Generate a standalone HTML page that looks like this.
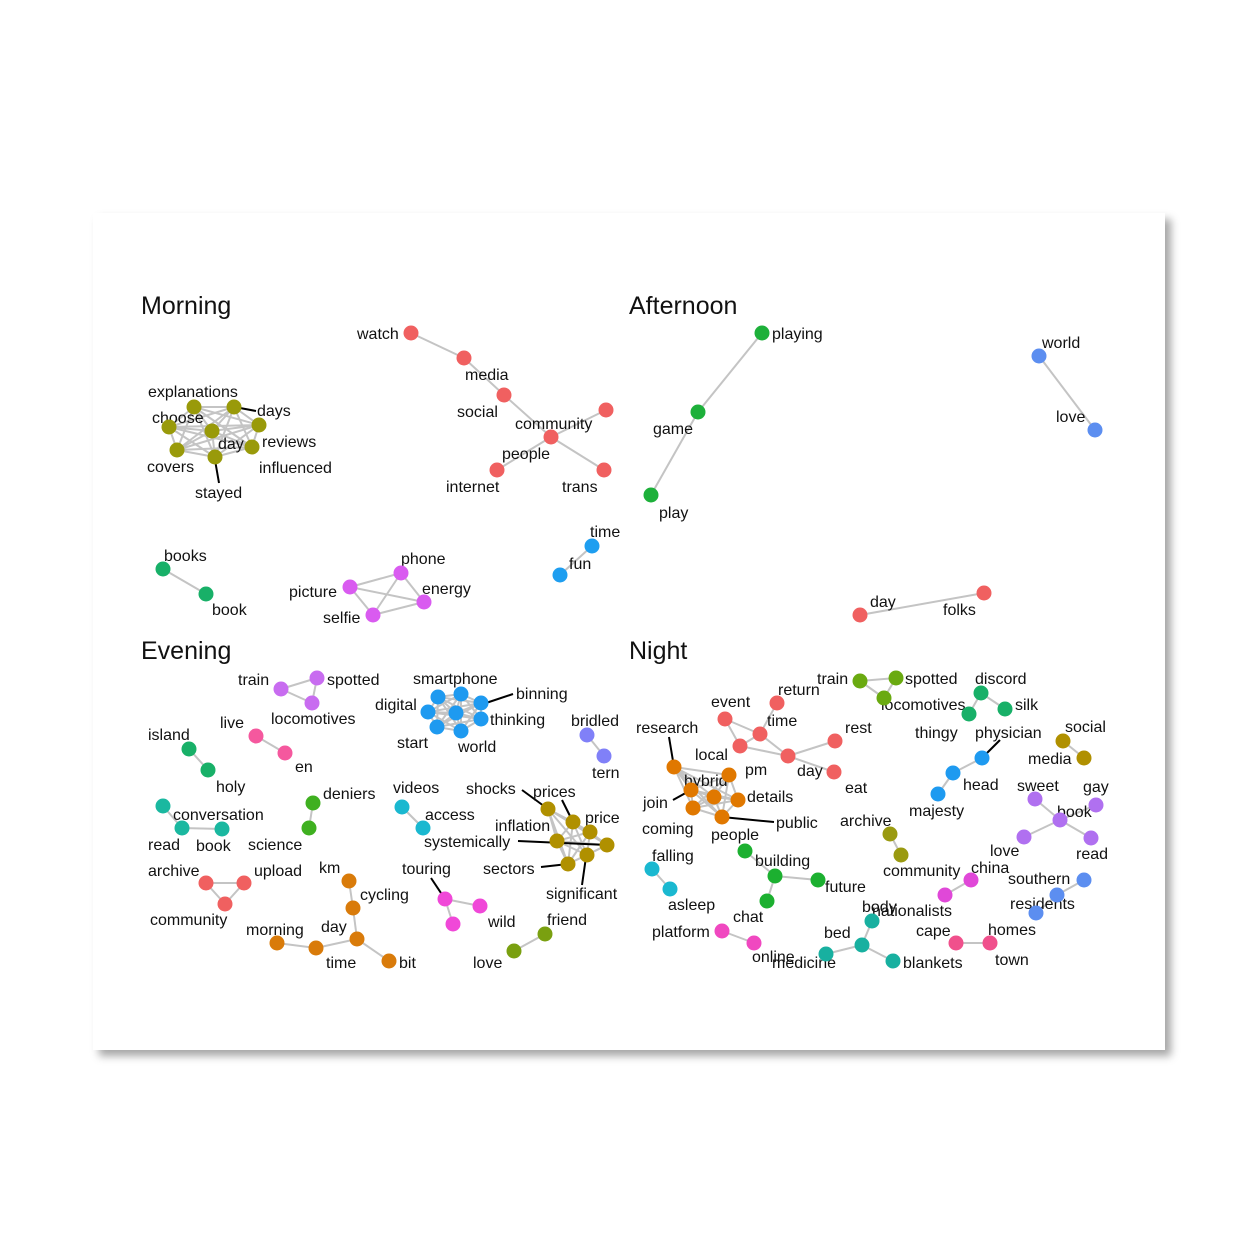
<!DOCTYPE html>
<html><head><meta charset="utf-8"><style>
body{margin:0;background:#fff;width:1260px;height:1260px;overflow:hidden}
#card{position:absolute;left:93px;top:213px;width:1072px;height:837px;background:#fff;box-shadow:6px 6px 8px rgba(0,0,0,0.35)}
svg{position:absolute;left:0;top:0}
text{font-family:"Liberation Sans",sans-serif;font-size:16px;fill:#111}
.t{font-size:25px}
</style></head><body>
<div id="card"></div>
<svg id="s" width="1260" height="1260">
<text class="t" x="141" y="314">Morning</text>
<text class="t" x="629" y="314">Afternoon</text>
<text class="t" x="141" y="659">Evening</text>
<text class="t" x="629" y="659">Night</text>
<g id="e"></g><g id="l"></g><g id="n"></g>
</svg>
<script>
const groupColors=["#F06060","#999A0A","#F06060","#D95BF0","#1E9EF0","#1DB03A","#5C8EF0","#F06060","#C86CF0","#F5589E","#18B068","#1AB8A0","#3FB020","#F06060","#D97B0A","#1E9AF0","#8080F8","#1AB8D0","#B09000","#F048D8","#7AA010","#E07800","#F06060","#6AAA10","#18B068","#B09000","#1E9AF0","#B070F0","#9A9A10","#1CB030","#1AB8D0","#E048D8","#5C8EF0","#F048C0","#18B0A0","#F0508C","#18B068"];
const groupNodes=[
[[411,333],[464,358],[504,395],[551,437],[606,410],[497,470],[604,470]],
[[194,407],[234,407],[169,427],[212,431],[259,425],[177,450],[215,457],[252,447]],
[],
[[350,587],[401,573],[424,602],[373,615]],
[[592,546],[560,575]],
[[762,333],[698,412],[651,495]],
[[1039,356],[1095,430]],
[[860,615],[984,593]],
[[281,689],[317,678],[312,703]],
[[256,736],[285,753]],
[[189,749],[208,770]],
[[163,806],[182,828],[222,829]],
[[313,803],[309,828]],
[[206,883],[244,883],[225,904]],
[[349,881],[353,908],[357,939],[316,948],[277,943],[389,961]],
[[438,697],[461,694],[481,703],[428,712],[456,713],[481,719],[437,727],[461,731]],
[[587,735],[604,756]],
[[402,807],[423,828]],
[[548,809],[573,822],[590,832],[557,841],[607,845],[568,864],[587,855]],
[[445,899],[480,906],[453,924]],
[[545,934],[514,951]],
[[674,767],[729,775],[691,790],[714,797],[738,800],[693,808],[722,817]],
[[725,719],[777,703],[760,734],[740,746],[788,756],[835,741],[834,772]],
[[860,681],[896,678],[884,698]],
[[981,693],[969,714],[1005,709]],
[[1063,741],[1084,758]],
[[982,758],[953,773],[938,794]],
[[1035,799],[1096,805],[1060,820],[1024,837],[1091,838]],
[[890,834],[901,855]],
[[745,851],[775,876],[818,880],[767,901]],
[[652,869],[670,889]],
[[971,880],[945,895]],
[[1084,880],[1057,895],[1036,913]],
[[722,931],[754,943]],
[[872,921],[862,945],[826,954],[893,961]],
[[956,943],[990,943]],
[[163,569],[206,594]]
];
const groupEdges=[
[[0,1],[1,2],[2,3],[3,4],[3,5],[3,6]],"all",[],"all",[[0,1]],[[0,1],[1,2]],[[0,1]],[[0,1]],"all",[[0,1]],[[0,1]],[[0,1],[1,2]],[[0,1]],"all",
[[0,1],[1,2],[2,3],[3,4],[2,5]],"all",[[0,1]],[[0,1]],"all",[[0,1],[0,2]],[[0,1]],"all",
[[0,2],[0,3],[3,2],[2,1],[2,4],[3,4],[4,5],[4,6]],"all",[[0,1],[0,2]],[[0,1]],[[0,1],[1,2]],[[1,2],[0,2],[2,4],[2,3],[1,2]],[[0,1]],[[0,1],[1,2],[1,3]],[[0,1]],[[0,1]],[[0,1],[1,2]],[[0,1]],[[0,1],[1,2],[1,3]],[[0,1]],[[0,1]]
];
const labels=[
["watch",357,339],["media",465,380],["social",457,417],["community",515,429],["people",502,459],["internet",446,492],["trans",562,492],
["explanations",148,397],["choose",152,423],["days",257,416,240,408,256,411],["day",218,449],["reviews",262,447],["covers",147,472],["influenced",259,473],["stayed",195,498,215,460,219,483],
["picture",289,597],["phone",401,564],["energy",422,594],["selfie",323,623],["time",590,537],["fun",569,569],
["playing",772,339],["game",653,434],["play",659,518],["world",1042,348],["love",1056,422],["day",870,607],["folks",943,615],
["books",164,561],["book",212,615],
["train",238,685],["spotted",327,685],["locomotives",271,724],["live",220,728],["en",295,772],["island",148,740],["holy",216,792],
["conversation",173,820],["read",148,850],["book",196,851],["deniers",323,799],["science",248,850],["archive",148,876],["upload",254,876],["community",150,925],
["km",319,873],["cycling",360,900],["day",321,932],["morning",246,935],["time",326,968],["bit",399,968],
["smartphone",413,684],["digital",375,710],["binning",516,699,483,704,513,694],["thinking",490,725],["start",397,748],["world",458,752],["bridled",571,726],["tern",592,778],
["videos",393,793],["access",425,820],["shocks",466,794,522,790,548,809],["prices",533,797,562,800,573,822],["price",585,823],["inflation",495,831],["systemically",424,847,518,841,607,845],["sectors",483,874,541,867,568,864],["significant",546,899,586,857,582,885],
["touring",402,874,431,878,445,899],["wild",488,927],["friend",547,925],["love",473,968],
["research",636,733,669,737,674,767],["pm",745,775],["hybrid",684,786],["details",747,802],["join",643,808,673,800,691,790],["coming",642,834],["people",711,840],["public",776,828,722,817,774,822],
["event",711,707],["return",778,695],["time",767,726],["local",695,760],["rest",845,733],["day",797,776],["eat",845,793],
["train",817,684],["spotted",905,684],["locomotives",881,710],["discord",975,684],["silk",1015,710],["social",1065,732],["media",1028,764],
["thingy",915,738],["physician",975,738,1000,740,982,758],["head",963,790],["majesty",909,816],["sweet",1017,791],["gay",1083,792],["book",1057,817],["love",990,856],["read",1076,859],
["archive",840,826],["building",755,866],["future",825,892],["chat",733,922],["falling",652,861],["asleep",668,910],["platform",652,937],["online",752,962],
["community",883,876],["china",971,873],["body",862,912],["nationalists",872,916],["cape",916,936],["bed",824,938],["medicine",772,968],["blankets",903,968],
["southern",1008,884],["residents",1010,909],["homes",988,935],["town",995,965]
];
const NS="http://www.w3.org/2000/svg";
const eg=document.getElementById('e'),ng=document.getElementById('n'),lg=document.getElementById('l');
groupNodes.forEach((nodes,g)=>{
  let ed=groupEdges[g];
  if(ed==="all"){ed=[];for(let i=0;i<nodes.length;i++)for(let j=i+1;j<nodes.length;j++)ed.push([i,j]);}
  ed.forEach(([a,b])=>{
    const ln=document.createElementNS(NS,'line');
    ln.setAttribute('x1',nodes[a][0]);ln.setAttribute('y1',nodes[a][1]);
    ln.setAttribute('x2',nodes[b][0]);ln.setAttribute('y2',nodes[b][1]);
    ln.setAttribute('stroke','#c4c4c4');ln.setAttribute('stroke-width','2');
    
    
    eg.appendChild(ln);
  });
  nodes.forEach(p=>{
    const c=document.createElementNS(NS,'circle');
    c.setAttribute('cx',p[0]);c.setAttribute('cy',p[1]);c.setAttribute('r','7.5');
    c.setAttribute('fill',groupColors[g]);
    
    
    ng.appendChild(c);
  });
});
labels.forEach(L=>{
  if(L.length>3){
    const ln=document.createElementNS(NS,'line');
    ln.setAttribute('x1',L[3]);ln.setAttribute('y1',L[4]);ln.setAttribute('x2',L[5]);ln.setAttribute('y2',L[6]);
    ln.setAttribute('stroke','#000');ln.setAttribute('stroke-width','2');
    
    
    lg.appendChild(ln);
  }
  const t=document.createElementNS(NS,'text');
  t.setAttribute('x',L[1]);t.setAttribute('y',L[2]);t.textContent=L[0];
  
  
  lg.appendChild(t);
});
</script>
</body></html>
